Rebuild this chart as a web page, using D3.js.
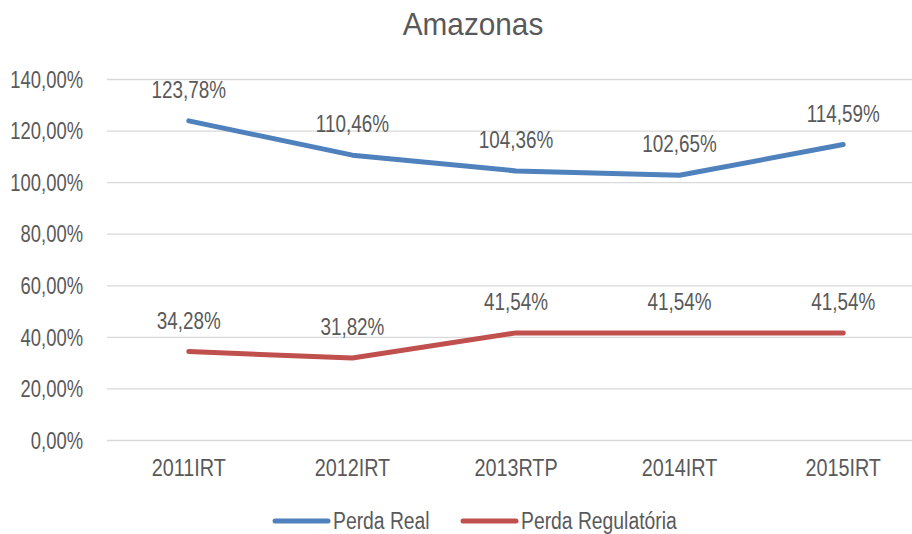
<!DOCTYPE html>
<html><head><meta charset="utf-8">
<script src="https://cdn.jsdelivr.net/npm/d3@7"></script>
<style>body{margin:0;background:#fff}text{font-family:"Liberation Sans",Arial,sans-serif;fill:#595959}</style>
</head><body><svg id="c" width="912" height="534"></svg>
<script>
const categories = ["2011IRT","2012IRT","2013RTP","2014IRT","2015IRT"];
const perdaReal = [123.78,110.46,104.36,102.65,114.59];
const perdaRegulatoria = [34.28,31.82,41.54,41.54,41.54];
const yTicks = [0,20,40,60,80,100,120,140];
const seriesNames = ["Perda Real","Perda Regulatória"];
const colors = ["#4f81bd","#c0504d"];

const svg = d3.select("#c");
const x = d3.scaleBand().domain(categories).range([107,925]);
const y = d3.scaleLinear().domain([0,140]).range([440,79]);
const fmt = v => d3.format(".2f")(v).replace(".",",") + "%";

function condense(sel, f){
  sel.each(function(){
    const w = this.getComputedTextLength();
    d3.select(this).attr("textLength", w*f).attr("lengthAdjust","spacingAndGlyphs");
  });
}

const title = svg.append("text").attr("x",473).attr("y",35).attr("text-anchor","middle")
  .style("font-size","32px").text("Amazonas");
condense(title, 0.93);

const yAxis = svg.append("g").attr("transform","translate(107,0)")
  .call(d3.axisLeft(y).tickValues(yTicks).tickSize(-818).tickFormat(fmt));
yAxis.select(".domain").remove();
yAxis.selectAll(".tick line").attr("stroke","#d9d9d9").attr("stroke-width",1.3);
yAxis.selectAll(".tick text").attr("x",-24).attr("dy","0.36em").style("font-size","23px").attr("fill","#595959")
  .style("font-family","Liberation Sans");
condense(yAxis.selectAll(".tick text"), 0.80);

const xAxis = svg.append("g").attr("transform","translate(0,440)")
  .call(d3.axisBottom(x).tickSize(0));
xAxis.select(".domain").remove();
xAxis.selectAll(".tick text").attr("y",20).attr("dy","0.71em").style("font-size","23px").attr("fill","#595959")
  .style("font-family","Liberation Sans");
condense(xAxis.selectAll(".tick text"), 0.86);

const series = [perdaReal, perdaRegulatoria];
const line = d3.line().x((d,i)=>x(categories[i])+x.bandwidth()/2).y(d=>y(d));
series.forEach((s,k)=>{
  svg.append("path").datum(s).attr("d",line).attr("fill","none")
    .attr("stroke",colors[k]).attr("stroke-width",5).attr("stroke-linecap","round").attr("stroke-linejoin","round");
  const lbl = svg.append("g").selectAll("text").data(s).join("text")
    .attr("x",(d,i)=>x(categories[i])+x.bandwidth()/2)
    .attr("y",d=>y(d)-23).attr("text-anchor","middle").style("font-size","23px").text(fmt);
  condense(lbl, 0.82);
});

const legX = [275,463];
seriesNames.forEach((n,k)=>{
  svg.append("line").attr("x1",legX[k]).attr("x2",legX[k]+53).attr("y1",521).attr("y2",521)
    .attr("stroke",colors[k]).attr("stroke-width",5).attr("stroke-linecap","round");
  const t = svg.append("text").attr("x",legX[k]+58).attr("y",529).style("font-size","23px").text(n);
  condense(t, 0.84);
});
</script></body></html>
